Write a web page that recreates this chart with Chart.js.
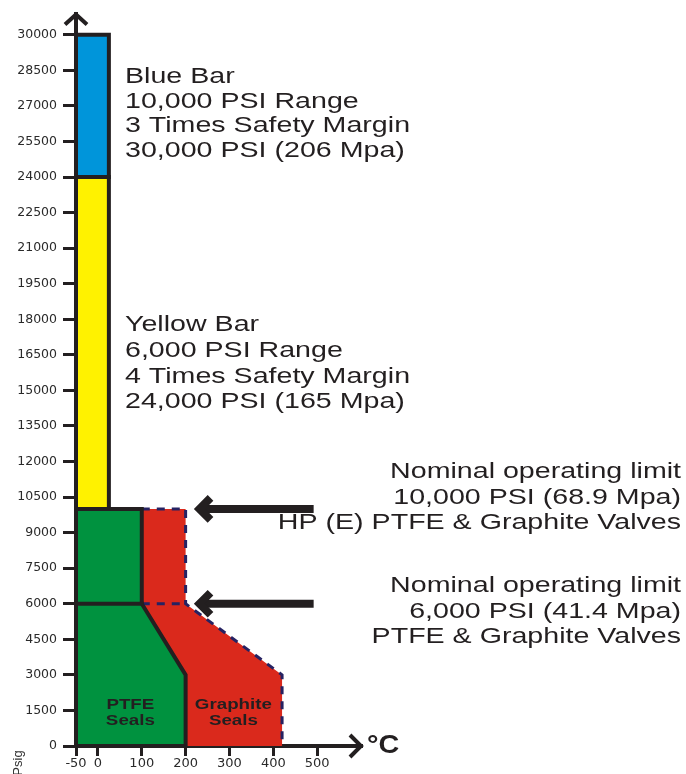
<!DOCTYPE html>
<html><head><meta charset="utf-8">
<script src="https://cdn.jsdelivr.net/npm/chart.js@4.4.1/dist/chart.umd.min.js"></script>
<style>html,body{margin:0;padding:0;background:#fff;}canvas{display:block;}</style>
</head><body>
<canvas id="c" width="686" height="774"></canvas>
<script>
// ---- data ----
const yTicks = [0,1500,3000,4500,6000,7500,9000,10500,12000,13500,15000,16500,18000,19500,21000,22500,24000,25500,27000,28500,30000];
const xTicks = [-50,0,100,200,300,400,500];
const barTemp = [-50, 25];
const yellowPsi = [10000, 24000];
const bluePsi = [24000, 30000];
const ptfeTemp = [-50, -50, 100, 100, 200, 200, -50];
const ptfePsi  = [0, 10000, 10000, 6000, 3000, 0, 0];
const graphiteTemp = [100, 200, 200, 420, 420, 200, 200, 100];
const graphitePsi  = [10000, 10000, 6000, 3000, 0, 0, 3000, 6000];
const graphiteEdgeTemp = [100, 200, 200, 420, 420];
const graphiteEdgePsi  = [10000, 10000, 6000, 3000, 0];
const graphiteStepTemp = [100, 200];
const graphiteStepPsi  = [6000, 6000];
const dividerTemp = [-50, 100];
const dividerPsi  = [6000, 6000];
const limitPsi = [10000, 6000];
const arrowTemp = [218, 492]; // tip, tail
const blueNote = ["Blue Bar", "10,000 PSI Range", "3 Times Safety Margin", "30,000 PSI (206 Mpa)"];
const yellowNote = ["Yellow Bar", "6,000 PSI Range", "4 Times Safety Margin", "24,000 PSI (165 Mpa)"];
const hpNote = ["Nominal operating limit", "10,000 PSI (68.9 Mpa)", "HP (E) PTFE & Graphite Valves"];
const stdNote = ["Nominal operating limit", "6,000 PSI (41.4 Mpa)", "PTFE & Graphite Valves"];
const sealLabels = [["PTFE", "Seals"], ["Graphite", "Seals"]];
const sealLabelTemp = [74, 309];

// ---- helpers ----
const INK = '#231F20';
const pts = (xs, ys) => xs.map((x, i) => ({x, y: ys[i]}));
const rect = (xr, yr) => pts([xr[0], xr[1], xr[1], xr[0], xr[0]], [yr[0], yr[0], yr[1], yr[1], yr[0]]);
const base = {showLine: true, pointRadius: 0, tension: 0, clip: false, borderJoinStyle: 'miter', borderCapStyle: 'square'};

function sText(ctx, txt, x, y, align, sx) {
  ctx.save(); ctx.translate(x, y); ctx.scale(sx, 1);
  ctx.textAlign = align; ctx.fillText(txt, 0, 0); ctx.restore();
}

const deco = {
  id: 'deco',
  afterDraw(chart) {
    const ctx = chart.ctx, xs = chart.scales.x, ys = chart.scales.y, a = chart.chartArea;
    ctx.save();
    ctx.strokeStyle = INK; ctx.fillStyle = INK; ctx.lineJoin = 'miter';
    // axis arrowheads
    ctx.lineWidth = 4;
    ctx.beginPath(); ctx.moveTo(a.left - 11, a.top + 11); ctx.lineTo(a.left, a.top + 1); ctx.lineTo(a.left + 11, a.top + 11); ctx.stroke();
    ctx.beginPath(); ctx.moveTo(a.right - 11, a.bottom - 11); ctx.lineTo(a.right, a.bottom); ctx.lineTo(a.right - 11, a.bottom + 11); ctx.stroke();
    // limit arrows
    limitPsi.forEach(v => {
      const y = ys.getPixelForValue(v);
      const tip = xs.getPixelForValue(arrowTemp[0]);
      const tail = xs.getPixelForValue(arrowTemp[1]);
      ctx.lineWidth = 8; ctx.lineCap = 'butt';
      ctx.beginPath(); ctx.moveTo(tail, y); ctx.lineTo(tip + 8, y); ctx.stroke();
      ctx.beginPath(); ctx.moveTo(tip + 17, y - 11); ctx.lineTo(tip + 6, y); ctx.lineTo(tip + 17, y + 11); ctx.stroke();
    });
    // notes
    ctx.fillStyle = INK; ctx.textBaseline = 'middle';
    ctx.font = '22px "Liberation Sans", Arial, sans-serif';
    blueNote.forEach((t, i) => sText(ctx, t, 125, 77 + i * 24.5, 'left', 1.3));
    yellowNote.forEach((t, i) => sText(ctx, t, 125, 325 + i * 25.8, 'left', 1.3));
    hpNote.forEach((t, i) => sText(ctx, t, 681, 472 + i * 25.6, 'right', 1.3));
    stdNote.forEach((t, i) => sText(ctx, t, 681, 586 + i * 25.6, 'right', 1.3));
    // seal labels
    ctx.font = 'bold 15px "Liberation Sans", Arial, sans-serif';
    sealLabels.forEach((lines, k) => {
      const x = xs.getPixelForValue(sealLabelTemp[k]);
      lines.forEach((t, i) => sText(ctx, t, x, 705 + i * 16, 'center', 1.25));
    });
    // axis titles
    ctx.font = 'bold 25px "Liberation Sans", Arial, sans-serif';
    sText(ctx, '°C', 367, 746, 'left', 1.15);
    ctx.fillStyle = '#333';
    ctx.font = '13px "Liberation Sans", Arial, sans-serif';
    ctx.save(); ctx.translate(18, 763); ctx.rotate(-Math.PI / 2);
    ctx.textAlign = 'center'; ctx.fillText('Psig', 0, 0); ctx.restore();
    ctx.restore();
  }
};

new Chart(document.getElementById('c'), {
  type: 'scatter',
  data: {
    datasets: [
      {...base, data: pts(graphiteTemp, graphitePsi), fill: 'shape', backgroundColor: '#DA291C', borderWidth: 0, borderColor: 'rgba(0,0,0,0)', order: 6},
      {...base, data: pts(graphiteEdgeTemp, graphiteEdgePsi), fill: false, borderColor: '#262262', borderWidth: 3, borderDash: [8, 7], borderCapStyle: 'butt', order: 5},
      {...base, data: pts(graphiteStepTemp, graphiteStepPsi), fill: false, borderColor: '#262262', borderWidth: 3, borderDash: [8, 7], borderCapStyle: 'butt', order: 5},
      {...base, data: pts(ptfeTemp, ptfePsi), fill: 'shape', backgroundColor: '#00923F', borderColor: INK, borderWidth: 4, order: 4},
      {...base, data: pts(dividerTemp, dividerPsi), fill: false, borderColor: INK, borderWidth: 4, order: 3},
      {...base, data: rect(barTemp, yellowPsi), fill: 'shape', backgroundColor: '#FFF200', borderColor: INK, borderWidth: 4, order: 2},
      {...base, data: rect(barTemp, bluePsi), fill: 'shape', backgroundColor: '#0095DA', borderColor: INK, borderWidth: 4, order: 1}
    ]
  },
  options: {
    responsive: false, animation: false, events: [],
    layout: {padding: {top: 13, right: 325, left: 0, bottom: 0}},
    plugins: {legend: {display: false}, tooltip: {enabled: false}},
    scales: {
      x: {
        type: 'linear', min: -50, max: 600,
        afterBuildTicks: s => { s.ticks = xTicks.map(v => ({value: v})); },
        afterFit: s => { s.height = 28; },
        grid: {drawOnChartArea: false, drawTicks: true, tickLength: 10, lineWidth: 3, color: INK},
        border: {display: true, color: INK, width: 4},
        ticks: {font: {family: 'DejaVu Sans', size: 13}, color: '#2a2a2a', padding: 0, maxRotation: 0, autoSkip: false, callback: v => String(v)}
      },
      y: {
        type: 'linear', min: 0, max: 30900,
        afterBuildTicks: s => { s.ticks = yTicks.map(v => ({value: v})); },
        afterFit: s => { s.width = 76; },
        grid: {drawOnChartArea: false, drawTicks: true, tickLength: 13, lineWidth: 3, color: INK},
        border: {display: true, color: INK, width: 4},
        ticks: {font: {family: 'DejaVu Sans', size: 12.5}, color: '#2a2a2a', padding: 6, autoSkip: false, callback: v => String(v)}
      }
    }
  },
  plugins: [deco]
});
</script>
</body></html>
